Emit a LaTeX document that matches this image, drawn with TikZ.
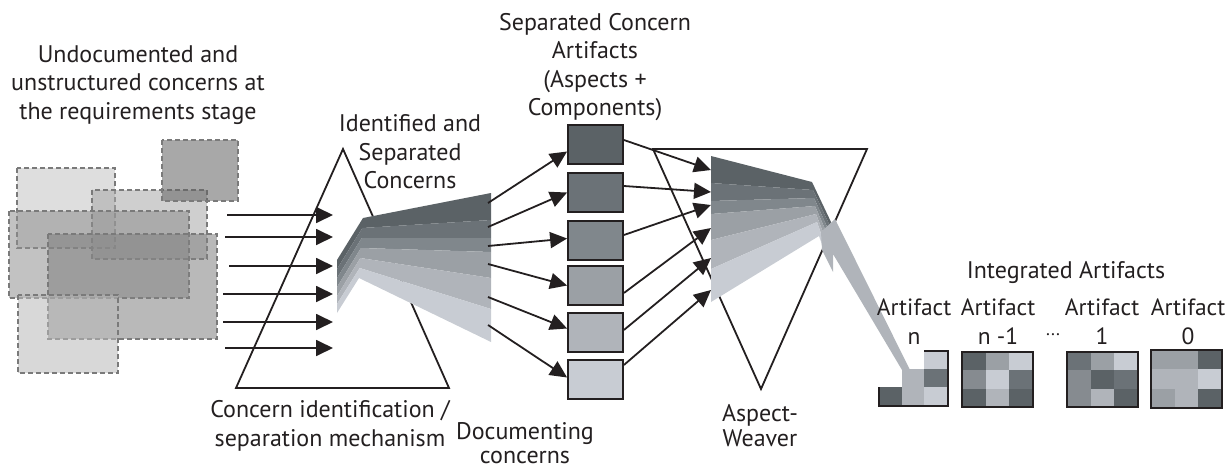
\documentclass[tikz,border=0pt]{standalone}
\usepackage{fontspec}
\setmainfont{PT Sans}
\usetikzlibrary{arrows.meta}
\definecolor{ink}{HTML}{231F20}
\definecolor{ga}{HTML}{5B6266}
\definecolor{gb}{HTML}{6B7277}
\definecolor{gc}{HTML}{80878C}
\definecolor{gcc}{HTML}{868B90}
\definecolor{gd}{HTML}{9BA0A5}
\definecolor{ge}{HTML}{B0B4BA}
\definecolor{gf}{HTML}{C8CCD3}
\definecolor{dashline}{HTML}{7A7A7A}
\begin{document}
\begin{tikzpicture}[x=1pt,y=-1pt,
  lbl/.style={align=center,text=ink,inner sep=0pt,font=\fontsize{24}{28.5}\selectfont},
  artlbl/.style={align=center,text=ink,inner sep=0pt,font=\fontsize{23.5}{29}\selectfont},
  concern/.style={draw=dashline,line width=1.1pt,dash pattern=on 5pt off 3pt,fill opacity=0.55},
  prism/.style={draw=ink,line width=1.8pt,line join=miter},
  flow/.style={draw=ink,line width=1.8pt,-{Triangle[length=17pt,width=16pt]}},
  sepbox/.style={draw=ink,line width=1.8pt,minimum width=55pt,minimum height=39pt,inner sep=0pt},
  artbox/.style={draw=ink,line width=1.6pt,minimum width=71pt,minimum height=55pt,inner sep=0pt}]
\useasboundingbox (0,0) rectangle (1228,468);

% ---------- unstructured concerns ----------
\path[concern,fill=black!24] (17,168) rectangle (115,248);
\path[concern,fill=black!34] (92,190) rectangle (207,259);
\path[concern,fill=black!62] (162,140) rectangle (238,201);
\path[concern,fill=black!44] (9,211) rectangle (189,298);
\path[concern,fill=black!50] (48,234) rectangle (217,339);
\path[concern,fill=black!28] (18,295) rectangle (118,373);

% ---------- separation prism ----------
\draw[prism] (343,149) -- (236,388) -- (449,388) -- cycle;

% incoming concerns
\foreach \sx/\yy [count=\i] in {227/215,225/237,229/266,223/294,223/322,225/348}{
  \coordinate (in\i) at (\sx,\yy);
  \coordinate (pr\i) at (333,\yy);
  \draw[flow] (in\i) -- (pr\i);
}

% separated concern bands
\fill[ga] (337,260) -- (363,218) -- (491,193) -- (491,220) -- (362.3,228) -- (337,269) -- cycle;
\fill[gb] (337,269) -- (362.3,228) -- (491,220) -- (491,238) -- (361.7,238) -- (337,278) -- cycle;
\fill[gc] (337,278) -- (361.7,238) -- (491,238) -- (491,252) -- (361,248) -- (337,287) -- cycle;
\fill[gd] (337,287) -- (361,248) -- (491,252) -- (491,278) -- (360.3,258) -- (337,296) -- cycle;
\fill[ge] (337,296) -- (360.3,258) -- (491,278) -- (491,309) -- (359.7,268) -- (337,304) -- cycle;
\fill[gf] (337,304) -- (359.7,268) -- (491,309) -- (491,342) -- (359,278) -- (337,313) -- cycle;

% ---------- separated concern artifacts ----------
\node[sepbox,fill=ga] (b1) at (595.5,144.5) {};
\node[sepbox,fill=gb] (b2) at (595.5,192.5) {};
\node[sepbox,fill=gc] (b3) at (595.5,240.5) {};
\node[sepbox,fill=gd] (b4) at (595.5,285.5) {};
\node[sepbox,fill=ge] (b5) at (595.5,332.5) {};
\node[sepbox,fill=gf] (b6) at (595.5,379.5) {};

\coordinate (f1) at (488,203);
\coordinate (f2) at (488,227);
\coordinate (f3) at (488,246);
\coordinate (f4) at (488,264);
\coordinate (f5) at (488,297);
\coordinate (f6) at (488,325);
\draw[flow] (f1) -- ([yshift=-7pt]b1.west);
\draw[flow] (f2) -- (b2.west);
\draw[flow] (f3) -- ([yshift=2pt]b3.west);
\draw[flow] (f4) -- (b4.west);
\draw[flow] (f5) -- ([yshift=4pt]b5.west);
\draw[flow] (f6) -- ([yshift=2pt]b6.west);

% ---------- aspect weaver ----------
\draw[prism] (653,149) -- (867,149) -- (761,389) -- cycle;

% woven bands
\fill[ga] (711,156) -- (812,182) -- (831,222) -- (830,226) -- (813,190) -- (711,183) -- cycle;
\fill[gb] (711,183) -- (813,190) -- (830,226) -- (829,231) -- (814,198) -- (711,201) -- cycle;
\fill[gc] (711,201) -- (814,198) -- (829,231) -- (828,236) -- (815,206) -- (711,214) -- cycle;
\fill[gd] (711,214) -- (815,206) -- (828,236) -- (826,240) -- (816,214) -- (711,240) -- cycle;
\fill[ge] (711,240) -- (816,214) -- (826,240) -- (825,245) -- (817,222) -- (711,269) -- cycle;
\fill[gf] (711,269) -- (817,222) -- (825,245) -- (824,250) -- (819,236) -- (711,302) -- cycle;
% woven stream into the integrated artifacts
\fill[ge] (821,232) -- (835,219) -- (910,370) -- (902,370) -- (833,254) -- (833,272) -- (822,250) -- cycle;

\coordinate (w1) at (711,170);
\coordinate (w2) at (711,192);
\coordinate (w3) at (711,205);
\coordinate (w4) at (711,228);
\coordinate (w5) at (711,258);
\coordinate (w6) at (711,290);
\draw[flow] ([yshift=4.5pt]b1.east) -- (w1);
\draw[flow] ([yshift=6.5pt]b2.east) -- (w2);
\draw[flow] ([yshift=5.5pt]b3.east) -- (w3);
\draw[flow] ([yshift=-7.5pt]b4.east) -- (w4);
\draw[flow] ([yshift=2.5pt]b5.east) -- (w5);
\draw[flow] ([yshift=14.5pt]b6.east) -- (w6);

% ---------- integrated artifacts ----------
% artifact n (still being assembled)
\fill[ga] (879,387) rectangle (902,406);
\fill[ge] (902,369) rectangle (924,406);
\fill[gf] (924,351) rectangle (948,369);
\fill[gb] (924,369) rectangle (948,387);
\fill[gf] (924,387) rectangle (948,406);
\draw[ink,line width=1.6pt] (924,351) -- (948,351) -- (948,406) -- (879,406) -- (879,387);

% artifact n-1
\foreach \c [count=\k from 0] in {ga,gd,gf,gcc,gf,gb,ga,ge,ga}{
  \pgfmathtruncatemacro\cc{mod(\k,3)}
  \pgfmathtruncatemacro\rr{div(\k,3)}
  \fill[\c] ({962+\cc*23.67},{352+\rr*18.33}) rectangle +(23.67,18.33);
}
\node[artbox] (an1) at (997.5,379.5) {};

% artifact 1
\foreach \c [count=\k from 0] in {gb,gd,gf,gcc,ga,gb,gcc,ge,ga}{
  \pgfmathtruncatemacro\cc{mod(\k,3)}
  \pgfmathtruncatemacro\rr{div(\k,3)}
  \fill[\c] ({1067+\cc*23.67},{352+\rr*18.33}) rectangle +(23.67,18.33);
}
\node[artbox] (a1) at (1102.5,379.5) {};

% artifact 0
\foreach \c [count=\k from 0] in {gd,gd,ga,ge,ge,gf,gd,ge,ga}{
  \pgfmathtruncatemacro\cc{mod(\k,3)}
  \pgfmathtruncatemacro\rr{div(\k,3)}
  \fill[\c] ({1151+\cc*23.67},{350+\rr*19.33}) rectangle +(23.67,19.33);
}
\node[artbox,minimum height=58pt] (a0) at (1186.5,379) {};

% ---------- labels ----------
\node[lbl] (tUn) at (138,85) {Undocumented and\\unstructured concerns at\\the requirements stage};
\node[lbl] (tId) at (410,152) {Identified and\\Separated\\Concerns};
\node[lbl] (tSc) at (595,67) {Separated Concern\\Artifacts\\(Aspects +\\Components)};
\node[lbl] (tCi) at (330,426) {Concern identification /\\separation mechanism};
\node[lbl,font=\fontsize{24}{23.5}\selectfont] (tDo) at (525,443) {Documenting\\concerns};
\node[lbl,font=\fontsize{24}{25}\selectfont] (tAw) at (760,426) {Aspect-\\Weaver};
\node[lbl,anchor=base] (tIa) at (1066,278) {Integrated Artifacts};
\node[artlbl] (tAn) at (914,322) {Artifact\\n};
\node[artlbl] (tAn1) at (998,322) {Artifact\\n -1};
\node[artlbl] (tA1) at (1102,322) {Artifact\\1};
\node[artlbl] (tA0) at (1188,322) {Artifact\\0};
\node[text=ink,inner sep=0pt,font=\fontsize{18}{18}\selectfont,anchor=base] (tDots) at (1053,335) {...};
\end{tikzpicture}
\end{document}
